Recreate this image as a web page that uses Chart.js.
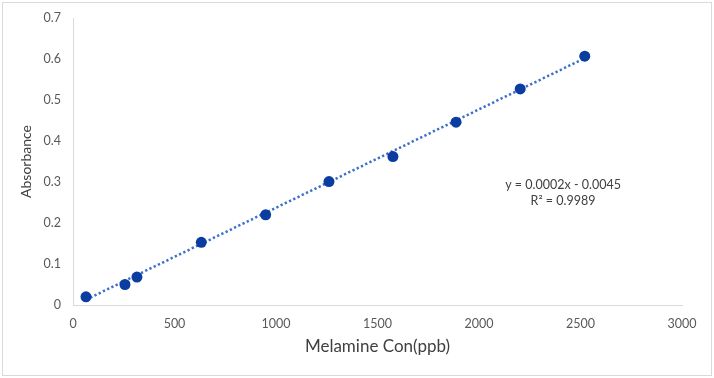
<!DOCTYPE html>
<html>
<head>
<meta charset="utf-8">
<script src="https://cdn.jsdelivr.net/npm/chart.js@4.4.1/dist/chart.umd.min.js"></script>
<style>
html,body{margin:0;padding:0;background:#fff;}
canvas{display:block;}
</style>
</head>
<body>
<canvas id="c" width="714" height="378"></canvas>
<script>
// Data
const concentrations = [64, 256, 315, 632, 949, 1261, 1576, 1887, 2203, 2521];
const absorbances    = [0.020, 0.050, 0.068, 0.153, 0.220, 0.301, 0.362, 0.446, 0.527, 0.607];
const trendX = [64, 2521];
const trendY = [0.013, 0.602];
const xTicks = [0, 500, 1000, 1500, 2000, 2500, 3000];
const yTicks = [0, 0.1, 0.2, 0.3, 0.4, 0.5, 0.6, 0.7];
const equationLines = ['y = 0.0002x - 0.0045', 'R\u00B2 = 0.9989'];
const xTitle = 'Melamine Con(ppb)';
const yTitle = 'Absorbance';

const FONT = 'Lato, "Open Sans", sans-serif';

const framePlugin = {
  id: 'frame',
  beforeDraw(chart) {
    const ctx = chart.ctx;
    ctx.save();
    ctx.fillStyle = '#ffffff';
    ctx.fillRect(0, 0, chart.width, chart.height);
    ctx.strokeStyle = '#d9d9d9';
    ctx.lineWidth = 1;
    ctx.strokeRect(2.5, 2.5, chart.width - 5, chart.height - 5);
    ctx.restore();
  }
};

const equationPlugin = {
  id: 'equation',
  afterDatasetsDraw(chart) {
    const ctx = chart.ctx;
    const xs = chart.scales.x, ys = chart.scales.y;
    const cx = xs.getPixelForValue(2414);
    const cy = ys.getPixelForValue(0.293);
    ctx.save();
    ctx.font = '12.5px ' + FONT;
    ctx.fillStyle = '#404040';
    ctx.textAlign = 'center';
    ctx.textBaseline = 'middle';
    equationLines.forEach((t, i) => ctx.fillText(t, cx, cy + i * 16));
    ctx.restore();
  }
};

new Chart(document.getElementById('c'), {
  type: 'scatter',
  data: {
    datasets: [
      {
        label: 'Absorbance',
        data: concentrations.map((x, i) => ({x: x, y: absorbances[i]})),
        pointRadius: 5.5,
        pointHoverRadius: 5.5,
        pointBackgroundColor: '#0a3d9f',
        pointBorderColor: '#0a3d9f',
        pointBorderWidth: 0,
        showLine: false
      },
      {
        label: 'Linear trend',
        data: trendX.map((x, i) => ({x: x, y: trendY[i]})),
        showLine: true,
        pointRadius: 0,
        borderColor: '#3a6fcb',
        borderWidth: 2.5,
        borderDash: [2.3, 2.4],
        borderCapStyle: 'butt',
        fill: false
      }
    ]
  },
  options: {
    responsive: false,
    animation: false,
    devicePixelRatio: 1,
    layout: { padding: { left: 0, right: 32, top: 18, bottom: 0 } },
    plugins: {
      legend: { display: false },
      tooltip: { enabled: false }
    },
    scales: {
      x: {
        type: 'linear',
        min: 0, max: 3000,
        afterBuildTicks: (s) => { s.ticks = xTicks.map(v => ({value: v})); },
        afterFit: (s) => { s.height = 73; },
        grid: { display: false },
        border: { display: true, color: '#d9d9d9', width: 1 },
        ticks: {
          padding: 3,
          color: '#595959',
          font: { family: FONT, size: 12.5 },
          maxRotation: 0,
          callback: (v) => String(v)
        },
        title: {
          display: true,
          text: xTitle,
          color: '#404040',
          font: { family: FONT, size: 17 },
          padding: { top: 0, bottom: 21 }
        }
      },
      y: {
        type: 'linear',
        min: 0, max: 0.7,
        afterBuildTicks: (s) => { s.ticks = yTicks.map(v => ({value: v})); },
        afterFit: (s) => { s.width = 73; },
        grid: { display: false },
        border: { display: true, color: '#d9d9d9', width: 1 },
        ticks: {
          padding: 4,
          color: '#595959',
          font: { family: FONT, size: 12.5 },
          callback: (v) => (v === 0 ? '0' : String(Math.round(v * 10) / 10))
        },
        title: {
          display: true,
          text: yTitle,
          color: '#404040',
          font: { family: FONT, size: 14 },
          padding: { top: 18.5, bottom: 0 }
        }
      }
    }
  },
  plugins: [framePlugin, equationPlugin]
});
</script>
</body>
</html>
